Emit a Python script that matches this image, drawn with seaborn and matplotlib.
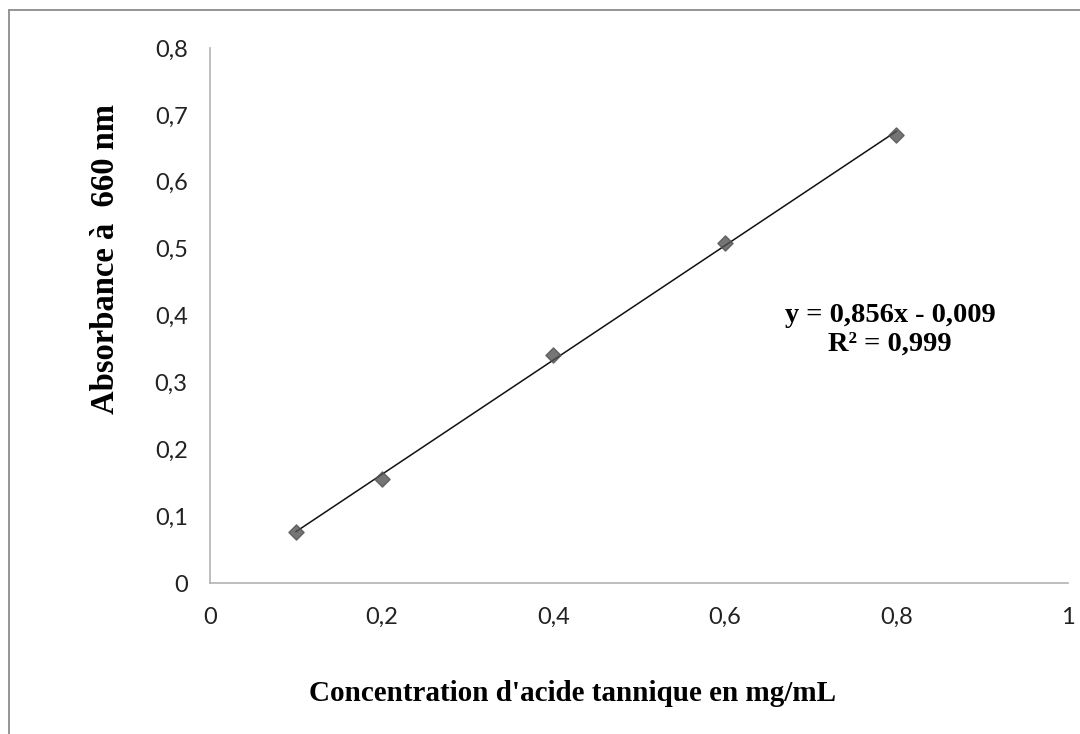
import matplotlib
matplotlib.use("Agg")
import matplotlib.pyplot as plt
import seaborn as sns
import numpy as np
import pandas as pd
from matplotlib.lines import Line2D
from matplotlib.ticker import FuncFormatter

# Data
concentration = [0.1, 0.2, 0.4, 0.6, 0.8]
absorbance = [0.077, 0.155, 0.341, 0.509, 0.670]
x_ticks = [0, 0.2, 0.4, 0.6, 0.8, 1]
y_ticks = [0, 0.1, 0.2, 0.3, 0.4, 0.5, 0.6, 0.7, 0.8]

df = pd.DataFrame({'conc': concentration, 'abs': absorbance})

sns.set_style('white')
plt.rcParams['font.family'] = ['Lato', 'DejaVu Sans']

fig = plt.figure(figsize=(10.8, 7.34), dpi=100)
ax = fig.add_axes([0.1944, 0.2057, 0.7946, 0.7289])

sns.regplot(x='conc', y='abs', data=df, ax=ax, ci=None, truncate=True,
            marker='D',
            scatter_kws={'s': 60, 'color': '#525252', 'edgecolors': '#525252',
                         'zorder': 3},
            line_kws={'color': '#111111', 'linewidth': 1.1, 'zorder': 2})

slope, intercept = np.polyfit(concentration, absorbance, 1)
r2 = np.corrcoef(concentration, absorbance)[0, 1] ** 2

ax.set_xlim(0, 1)
ax.set_ylim(0, 0.8)
ax.set_xticks(x_ticks)
ax.set_yticks(y_ticks)
comma = FuncFormatter(lambda v, p: f"{v:g}".replace('.', ','))
ax.xaxis.set_major_formatter(comma)
ax.yaxis.set_major_formatter(comma)
ax.tick_params(length=0, labelsize=17, colors='#222222')
ax.tick_params(axis='x', pad=17)
ax.tick_params(axis='y', pad=16)

for side in ['top', 'right']:
    ax.spines[side].set_visible(False)
for side in ['left', 'bottom']:
    ax.spines[side].set_color('#b3b3b3')
    ax.spines[side].set_linewidth(1.2)

serif = ['Liberation Serif', 'DejaVu Serif']
ax.set_xlabel("Concentration d'acide tannique en mg/mL", family=serif,
              fontweight='bold', fontsize=21, va='center', color='black')
ax.set_ylabel("Absorbance à  660 nm", family=serif,
              fontweight='bold', fontsize=23.5, va='center', color='black')
ax.xaxis.set_label_coords(0.422, -0.2056)
ax.yaxis.set_label_coords(-0.122, 0.6056)

sign = '-' if intercept < 0 else '+'
ax.text(0.7925, 0.400, f"y = {slope:.3f}x {sign} {abs(intercept):.3f}".replace('.', ','),
        family=serif, fontweight='bold', fontsize=20.5, ha='center', va='center',
        color='black')
ax.text(0.7925, 0.357, f"R² = {r2:.3f}".replace('.', ','),
        family=serif, fontweight='bold', fontsize=20.5, ha='center', va='center',
        color='black')

# chart frame (only the left and top edges are inside the picture)
frame = '#8c8c8c'
fig.add_artist(Line2D([9 / 1080, 9 / 1080], [0, 1 - 10 / 734],
                      transform=fig.transFigure, color=frame, linewidth=1.3))
fig.add_artist(Line2D([9 / 1080, 1], [1 - 10 / 734, 1 - 10 / 734],
                      transform=fig.transFigure, color=frame, linewidth=1.3))

fig.savefig('out.png', dpi=100, facecolor='white')
